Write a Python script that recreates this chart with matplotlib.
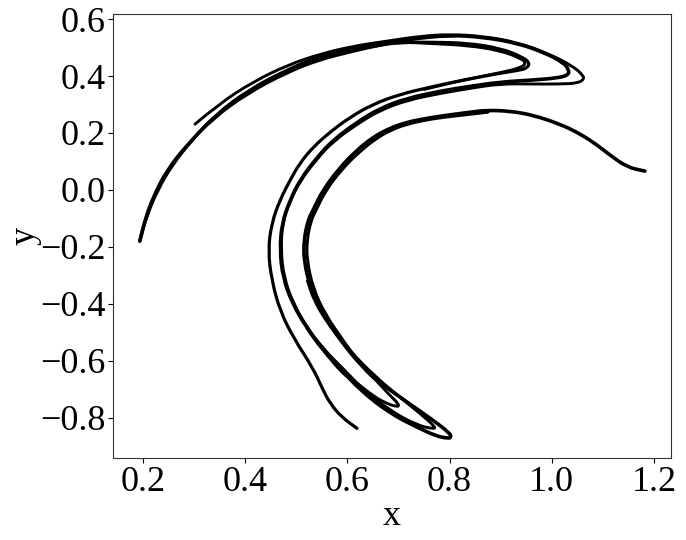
import matplotlib
matplotlib.use('Agg')
import matplotlib.pyplot as plt
from matplotlib.path import Path
from matplotlib.patches import PathPatch

plt.rcParams['font.family'] = ['Liberation Serif', 'DejaVu Serif']

# main strand: right tail, inner arc, lowest fold, middle arc, big band, left tip
x1 = [1.182, 1.182, 1.147, 1.114, 1.081, 1.049, 1.016, .963, .918, .873, .840, .781, .748, .717, .683, .650, .619,
      .586, .552, .533, .523, .515, .515, .527, .550, .586, .631, .670, .717, .762, .801, .803, .797, .775, .736,
      .683, .625, .586, .552, .521, .492, .474, .468, .472, .488, .507, .541, .572, .619, .664, .717, .781, .840,
      .899, .963, 1.010, 1.032, 1.034, 1.022, .983, .932, .865, .801, .723, .678, .611, .546, .482, .404, .337,
      .286, .247, .220, .204, .194, .194]
y1 = [.066, .066, .080, .122, .168, .203, .231, .263, .277, .280, .273, .259, .249, .238, .217, .185, .140,
      .080, -.001, -.071, -.107, -.177, -.247, -.342, -.433, -.528, -.627, -.686, -.746, -.802, -.855, -.870,
      -.873, -.866, -.834, -.785, -.704, -.627, -.563, -.486, -.398, -.307, -.212, -.117, -.036, .034, .115, .175,
      .238, .287, .322, .347, .364, .379, .386, .393, .403, .421, .449, .484, .516, .537, .544, .530, .516, .488,
      .459, .414, .340, .252, .157, .069, -.026, -.107, -.180, -.180]

# left tip back over the band, inner hook, outer arc, bottom tail
x2 = [.194, .194, .208, .229, .257, .296, .343, .409, .484, .546, .611, .678, .768, .834, .899, .944, .957, .951, .938,
      .899, .826, .762, .703, .650, .605, .566, .533, .507, .488, .468, .452, .445, .452, .468, .494, .533, .550,
      .566, .589, .619]
y2 = [-.180, -.180, -.089, .0, .087, .175, .266, .354, .424, .470, .498, .519, .519, .516, .498, .466, .445, .428, .421,
      .410, .386, .361, .336, .301, .255, .203, .150, .094, .034, -.036, -.117, -.212, -.317, -.423, -.518, -.627,
      -.694, -.750, -.799, -.838]

# thin start at upper left, outermost hook, middle arc, small fold, inner arc
x3 = [.302, .351, .415, .482, .546, .611, .678, .742, .801, .865, .932, .996, 1.041, 1.061, 1.063, 1.051, 1.016,
      .963, .899, .840, .781, .717, .664, .619, .572, .541, .507, .488, .473, .470, .476, .494, .523, .586, .619,
      .644, .670, .699, .701, .683, .658, .631, .592, .556, .533, .521, .521, .529, .539, .558, .591, .624, .655,
      .686, .719, .750, .783, .842, .875]
y3 = [.231, .305, .379, .438, .477, .505, .523, .540, .547, .540, .519, .477, .435, .403, .389, .375, .372, .372,
      .373, .357, .339, .315, .280, .231, .170, .110, .030, -.040, -.117, -.212, -.307, -.398, -.490, -.641, -.679,
      -.715, -.746, -.764, -.753, -.722, -.672, -.627, -.530, -.435, -.345, -.247, -.177, -.107, -.071, -.001,
      .076, .134, .179, .211, .232, .244, .254, .266, .273]

# middle fold near the bottom
x4 = [.521, .555, .590, .630, .683, .736, .771, .771, .742, .703, .654, .607, .562, .535, .522]
y4 = [-.486, -.563, -.625, -.700, -.775, -.827, -.841, -.831, -.785, -.729, -.655, -.570, -.470, -.390, -.320]

# second pass over the inner hook
x5 = [.750, .800, .850, .899, .938, .950, .940, .899, .834, .768, .703, .640]
y5 = [.353, .375, .394, .412, .428, .445, .462, .490, .508, .514, .520, .500]

xticks = [0.2, 0.4, 0.6, 0.8, 1.0, 1.2]
yticks = [-0.8, -0.6, -0.4, -0.2, 0.0, 0.2, 0.4, 0.6]


def add_strand(ax, xs, ys, lw):
    # read points act as control points so the strand is drawn as a smooth curve
    pts = list(zip(xs, ys))
    verts = [pts[0]]
    codes = [Path.MOVETO]
    for i in range(1, len(pts) - 1):
        mid = ((pts[i][0] + pts[i + 1][0]) / 2, (pts[i][1] + pts[i + 1][1]) / 2)
        verts += [pts[i], mid]
        codes += [Path.CURVE3, Path.CURVE3]
    verts.append(pts[-1])
    codes.append(Path.LINETO)
    ax.add_patch(PathPatch(Path(verts, codes), fill=False, edgecolor='black', lw=lw,
                           capstyle='round', joinstyle='round'))


fig = plt.figure(figsize=(6.86, 5.4), dpi=100)
ax = fig.add_axes([0.165, 0.152, 0.813, 0.822])

add_strand(ax, x1, y1, 2.6)
add_strand(ax, x2, y2, 2.3)
add_strand(ax, x3, y3, 2.1)
add_strand(ax, x4, y4, 2.1)
add_strand(ax, x5, y5, 2.1)

ax.set_xlim(0.142, 1.233)
ax.set_ylim(-0.942, 0.618)
ax.set_xticks(xticks)
ax.set_yticks(yticks)
ax.tick_params(labelsize=26, length=3.5, width=0.8, pad=2)
for s in ax.spines.values():
    s.set_color('#333333')
ax.set_xlabel('x', fontsize=26, labelpad=1)
ax.set_ylabel('y', fontsize=26, labelpad=-1)

fig.savefig('out.png', dpi=100)
